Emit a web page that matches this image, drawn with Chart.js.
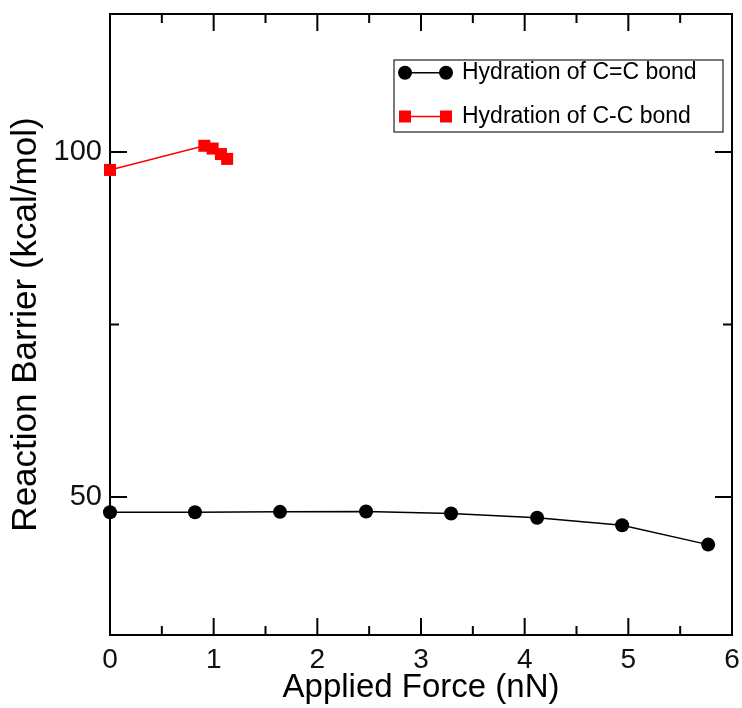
<!DOCTYPE html>
<html>
<head>
<meta charset="utf-8">
<script src="https://cdn.jsdelivr.net/npm/chart.js@4.4.1/dist/chart.umd.min.js"></script>
<style>
  html, body { margin: 0; padding: 0; background: #fff; }
  #wrap { width: 742px; height: 708px; }
</style>
</head>
<body>
<div id="wrap"><canvas id="barrierChart" width="742" height="708"></canvas></div>
<script>
/*----------------------------------------------------------------*/
// applied force (nN) vs. reaction barrier (kcal/mol)
const forceDouble = [0, 0.82, 1.64, 2.47, 3.29, 4.12, 4.94, 5.77];
const barrierDouble = [47.8, 47.8, 47.85, 47.9, 47.6, 47.0, 45.9, 43.1];
const forceSingle = [0, 0.91, 0.99, 1.07, 1.13];
const barrierSingle = [97.4, 100.9, 100.5, 99.7, 99.0];
const seriesNames = ['Hydration of C=C bond', 'Hydration of C-C bond'];

const xMajorTicks = [0, 1, 2, 3, 4, 5, 6];
const xMinorTicks = [0.5, 1.5, 2.5, 3.5, 4.5, 5.5];
const yMajorTicks = [50, 100];
const yMinorTicks = [75];

const FONT = 'Arial, "Liberation Sans", sans-serif';

function toPoints(xs, ys) {
    return xs.map((x, i) => ({ x: x, y: ys[i] }));
}

/*----------------------------------------------------------------*/
// box around the plot with inward ticks on every side
const frameTicks = {
    id: 'frameTicks',
    beforeDatasetsDraw(chart) {
        const { ctx, chartArea: a, scales } = chart;
        const xs = scales.x, ys = scales.y;
        ctx.save();
        ctx.strokeStyle = '#000';
        ctx.lineWidth = 2;
        ctx.strokeRect(a.left, a.top, a.right - a.left, a.bottom - a.top);
        ctx.beginPath();
        const xTick = (v, len) => {
            const p = xs.getPixelForValue(v);
            ctx.moveTo(p, a.bottom); ctx.lineTo(p, a.bottom - len);
            ctx.moveTo(p, a.top); ctx.lineTo(p, a.top + len);
        };
        const yTick = (v, len) => {
            const p = ys.getPixelForValue(v);
            ctx.moveTo(a.left, p); ctx.lineTo(a.left + len, p);
            ctx.moveTo(a.right, p); ctx.lineTo(a.right - len, p);
        };
        xMajorTicks.forEach(v => xTick(v, 17));
        xMinorTicks.forEach(v => xTick(v, 9));
        yMajorTicks.forEach(v => yTick(v, 17));
        yMinorTicks.forEach(v => yTick(v, 9));
        ctx.stroke();
        ctx.restore();
    }
};

// legend with marker-line-marker samples
const boxLegend = {
    id: 'boxLegend',
    afterDraw(chart) {
        const { ctx, chartArea: a } = chart;
        const left = 394, top = 60, w = a.right - 9 - left, h = 72;
        ctx.save();
        ctx.fillStyle = '#fff';
        ctx.fillRect(left, top, w, h);
        ctx.strokeStyle = '#222';
        ctx.lineWidth = 1.2;
        ctx.strokeRect(left, top, w, h);
        chart.data.datasets.forEach((ds, i) => {
            const cy = top + 12.7 + i * 43.8;
            const x1 = left + 11, x2 = left + 52;
            ctx.strokeStyle = ds.borderColor;
            ctx.lineWidth = 1.5;
            ctx.beginPath();
            ctx.moveTo(x1, cy); ctx.lineTo(x2, cy);
            ctx.stroke();
            ctx.fillStyle = ds.pointBackgroundColor;
            [x1, x2].forEach(px => {
                if (ds.pointStyle === 'rect') {
                    ctx.fillRect(px - 6, cy - 6, 12, 12);
                } else {
                    ctx.beginPath();
                    ctx.arc(px, cy, 7, 0, Math.PI * 2);
                    ctx.fill();
                }
            });
            ctx.fillStyle = '#000';
            ctx.font = '23px ' + FONT;
            ctx.textBaseline = 'middle';
            ctx.textAlign = 'left';
            ctx.fillText(ds.label, left + 68, cy);
        });
        ctx.restore();
    }
};

/*----------------------------------------------------------------*/
new Chart(document.getElementById('barrierChart'), {
    type: 'scatter',
    data: {
        datasets: [
            {
                label: seriesNames[0],
                data: toPoints(forceDouble, barrierDouble),
                showLine: true,
                borderColor: '#000',
                borderWidth: 1.5,
                pointStyle: 'circle',
                pointRadius: 7,
                pointHoverRadius: 7,
                pointBackgroundColor: '#000',
                pointBorderColor: '#000',
                pointBorderWidth: 0,
                clip: false
            },
            {
                label: seriesNames[1],
                data: toPoints(forceSingle, barrierSingle),
                showLine: true,
                borderColor: '#ff0000',
                borderWidth: 1.5,
                pointStyle: 'rect',
                pointRadius: 8.5,
                pointHoverRadius: 8.5,
                pointBackgroundColor: '#ff0000',
                pointBorderColor: '#ff0000',
                pointBorderWidth: 0,
                clip: false
            }
        ]
    },
    options: {
        responsive: false,
        animation: false,
        events: [],
        layout: { padding: { top: 14, right: 10, left: 0, bottom: 0 } },
        plugins: {
            legend: { display: false },
            tooltip: { enabled: false }
        },
        scales: {
            x: {
                type: 'linear',
                min: 0,
                max: 6,
                afterBuildTicks: s => { s.ticks = xMajorTicks.map(v => ({ value: v })); },
                afterFit: s => { s.height = 73; s.paddingLeft = 0; s.paddingRight = 0; },
                grid: { display: false, drawTicks: false },
                border: { display: false },
                ticks: {
                    color: '#111',
                    padding: 8,
                    font: { family: FONT, size: 28 },
                    callback: v => String(v)
                },
                title: {
                    display: true,
                    text: 'Applied Force (nN)',
                    color: '#000',
                    padding: 0,
                    font: { family: FONT, size: 33 }
                }
            },
            y: {
                type: 'linear',
                min: 30,
                max: 120,
                afterBuildTicks: s => { s.ticks = yMajorTicks.map(v => ({ value: v })); },
                afterFit: s => { s.width = 110; s.paddingTop = 0; s.paddingBottom = 0; },
                grid: { display: false, drawTicks: false },
                border: { display: false },
                ticks: {
                    color: '#111',
                    padding: 8,
                    font: { family: FONT, size: 29 },
                    callback: v => String(v)
                },
                title: {
                    display: true,
                    text: 'Reaction Barrier (kcal/mol)',
                    color: '#000',
                    padding: { top: 5, bottom: 0 },
                    font: { family: FONT, size: 35 }
                }
            }
        }
    },
    plugins: [frameTicks, boxLegend]
});
/*----------------------------------------------------------------*/
</script>
</body>
</html>
